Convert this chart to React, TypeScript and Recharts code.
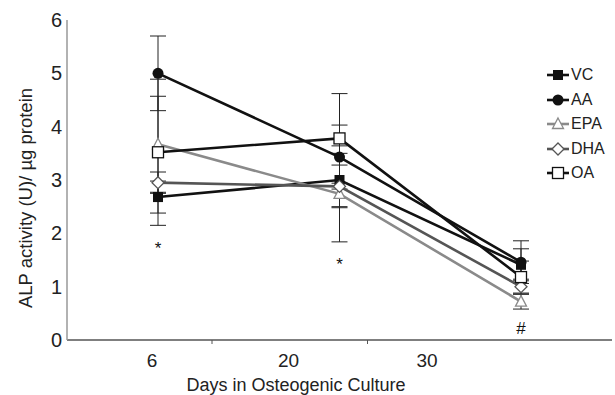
import React from "react";
import {
  LineChart,
  Line,
  XAxis,
  YAxis,
  ErrorBar,
  Legend,
  ReferenceDot,
} from "recharts";

// days of culture (categories) and ALP activity per group
const days = ["6", "20", "30"];
const vc = [2.68, 3.0, 1.41];
const vcErr = [0.3, 0.5, 0.3];
const aa = [5.0, 3.43, 1.46];
const aaErr = [0.7, 0.6, 0.4];
const epa = [3.67, 2.74, 0.72];
const epaErr = [0.9, 0.9, 0.14];
const dha = [2.95, 2.88, 1.0];
const dhaErr = [0.2, 0.4, 0.14];
const oa = [3.52, 3.78, 1.18];
const oaErr = [1.37, 0.84, 0.3];

const yTicks = [0, 1, 2, 3, 4, 5, 6];

// significance marks under the points
const markDays = ["6", "20", "30"];
const markY = [1.72, 1.42, 0.22];
const markText = ["*", "*", "#"];

// the printed day labels sit left of the points in the original figure
const labelShift = [-6, -51, -94];
const tickMarkShift = [54, 28, null];

const data = days.map((d, i) => ({
  day: d,
  VC: vc[i],
  VCe: vcErr[i],
  AA: aa[i],
  AAe: aaErr[i],
  EPA: epa[i],
  EPAe: epaErr[i],
  DHA: dha[i],
  DHAe: dhaErr[i],
  OA: oa[i],
  OAe: oaErr[i],
}));

type Shape = "square" | "circle" | "triangle" | "diamond" | "openSquare";

const SERIES: { key: string; color: string; shape: Shape; width: number }[] = [
  { key: "VC", color: "#111", shape: "square", width: 2.6 },
  { key: "AA", color: "#111", shape: "circle", width: 2.6 },
  { key: "EPA", color: "#8a8a8a", shape: "triangle", width: 2.6 },
  { key: "DHA", color: "#555", shape: "diamond", width: 2.6 },
  { key: "OA", color: "#111", shape: "openSquare", width: 2.6 },
];

const FONT = "'Liberation Sans', Arial, Helvetica, sans-serif";

function Marker({ shape, cx, cy, color }: { shape: Shape; cx: number; cy: number; color: string }) {
  if (shape === "square")
    return <rect x={cx - 5} y={cy - 5} width={10} height={10} fill="#111" />;
  if (shape === "circle") return <circle cx={cx} cy={cy} r={5.5} fill="#111" />;
  if (shape === "triangle")
    return (
      <path
        d={`M${cx},${cy - 6} L${cx + 5.5},${cy + 4.5} L${cx - 5.5},${cy + 4.5} Z`}
        fill="#fff"
        stroke={color}
        strokeWidth={1.3}
      />
    );
  if (shape === "diamond")
    return (
      <path
        d={`M${cx},${cy - 6} L${cx + 6},${cy} L${cx},${cy + 6} L${cx - 6},${cy} Z`}
        fill="#fff"
        stroke={color}
        strokeWidth={1.3}
      />
    );
  return (
    <rect x={cx - 5.5} y={cy - 5.5} width={11} height={11} fill="#fff" stroke="#111" strokeWidth={1.3} />
  );
}

function DayTick(props: any) {
  const { x, y, payload, index } = props;
  const mark = tickMarkShift[index];
  return (
    <g>
      <text
        x={x + labelShift[index]}
        y={y + 19}
        textAnchor="middle"
        fontSize={19}
        fontFamily={FONT}
        fill="#222"
      >
        {payload.value}
      </text>
      {mark !== null && (
        <line x1={x + mark} x2={x + mark} y1={y - 8} y2={y - 4} stroke="#555" strokeWidth={1} />
      )}
    </g>
  );
}

function LegendBox() {
  return (
    <div style={{ fontFamily: FONT, fontSize: 16, color: "#222" }}>
      {SERIES.map((s) => (
        <div key={s.key} style={{ display: "flex", alignItems: "center", height: 24.5 }}>
          <svg width={24} height={16} style={{ marginRight: 1 }}>
            <line x1={1} x2={23} y1={8} y2={8} stroke={s.color} strokeWidth={2.6} />
            <Marker shape={s.shape} cx={12} cy={8} color={s.color} />
          </svg>
          <span>{s.key}</span>
        </div>
      ))}
    </div>
  );
}

export default function App() {
  return (
    <div style={{ position: "absolute", left: 0, top: 0, background: "#fff" }}>
      <LineChart
        width={615}
        height={395}
        data={data}
        margin={{ top: 20, right: 3, left: 0, bottom: 0 }}
      >
        <XAxis
          dataKey="day"
          height={55}
          padding={{ left: 91, right: 91 }}
          tickLine={false}
          axisLine={{ stroke: "#555", strokeWidth: 1.5 }}
          tick={<DayTick />}
          interval={0}
          label={{
            content: (p: any) => (
              <text
                x={p.viewBox.x + 229}
                y={p.viewBox.y + 51}
                textAnchor="middle"
                fontSize={18}
                fontFamily={FONT}
                fill="#222"
              >
                Days in Osteogenic Culture
              </text>
            ),
          }}
        />
        <YAxis
          width={67}
          domain={[0, 6]}
          ticks={yTicks}
          tickLine={false}
          tickSize={3}
          tickMargin={2}
          axisLine={{ stroke: "#999", strokeWidth: 1.5 }}
          tick={{ fontSize: 20, fontFamily: FONT, fill: "#222" }}
          label={{
            content: (p: any) => {
              const cx = 32;
              const cy = p.viewBox.y + p.viewBox.height / 2 + 18;
              return (
                <text
                  x={cx}
                  y={cy}
                  transform={`rotate(-90, ${cx}, ${cy})`}
                  textAnchor="middle"
                  fontSize={18.5}
                  fontFamily={FONT}
                  fill="#222"
                >
                  ALP activity (U)/ µg protein
                </text>
              );
            },
          }}
        />
        <Legend
          layout="vertical"
          verticalAlign="middle"
          align="center"
          content={<LegendBox />}
          wrapperStyle={{ position: "absolute", left: 546, top: 63, width: 70 }}
        />
        {SERIES.map((s) => (
          <Line
            key={s.key}
            dataKey={s.key}
            stroke={s.color}
            strokeWidth={s.width}
            isAnimationActive={false}
            dot={(p: any) => (
              <Marker key={`${s.key}-${p.index}`} shape={s.shape} cx={p.cx} cy={p.cy} color={s.color} />
            )}
            activeDot={false}
          >
            <ErrorBar dataKey={`${s.key}e`} width={8} stroke="#222" strokeWidth={1} direction="y" />
          </Line>
        ))}
        {markDays.map((d, i) => (
          <ReferenceDot
            key={`m${i}`}
            x={d}
            y={markY[i]}
            r={0}
            fill="none"
            stroke="none"
            label={{
              value: markText[i],
              position: "center",
              fontSize: 17,
              fontFamily: FONT,
              fill: "#111",
            }}
          />
        ))}
      </LineChart>
    </div>
  );
}
